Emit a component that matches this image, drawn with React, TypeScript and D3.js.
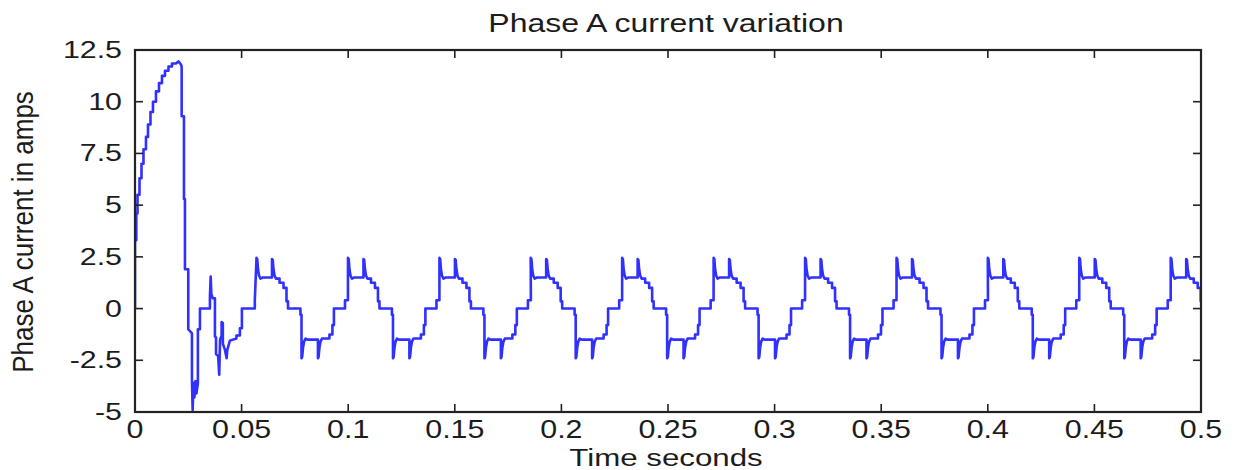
import React from 'react';
import * as d3 from 'd3';

const chartTitle = 'Phase A current variation';
const xAxisLabel = 'Time seconds';
const yAxisLabel = 'Phase A current in amps';

const xTicks = [0, 0.05, 0.1, 0.15, 0.2, 0.25, 0.3, 0.35, 0.4, 0.45, 0.5];
const xTickLabels = ['0', '0.05', '0.1', '0.15', '0.2', '0.25', '0.3', '0.35', '0.4', '0.45', '0.5'];
const yTicks = [-5, -2.5, 0, 2.5, 5, 7.5, 10, 12.5];
const yTickLabels = ['-5', '-2.5', '0', '2.5', '5', '7.5', '10', '12.5'];

// start-up transient, time in ms, current in A
const transientMs = [0, 0, 0.61, 0.61, 1.17, 1.17, 2.11, 2.11, 3.05, 3.05, 3.98, 3.98, 5.15, 5.15, 6.09, 6.09, 7.26, 7.26, 8.43, 8.43, 9.84, 9.84, 11.25, 11.25, 12.65, 12.65, 14.06, 14.06, 15.7, 15.7, 17.34, 17.34, 19.21, 20.38, 21.56, 21.88, 21.88, 22.96, 22.96, 23.43, 23.43, 24.98, 24.98, 26.71, 26.71, 27.04, 27.4, 27.88, 28.35, 28.82, 29.5, 29.5, 30.46, 30.46, 35.15, 35.15, 35.5, 35.8, 36.5, 37.49, 37.49, 38.0, 38.0, 39.0, 39.5, 39.9, 40.63, 40.63, 41.2, 41.2, 42.2, 42.97, 43.3, 44.5, 47.56, 47.56, 49.2, 49.2, 50.14, 50.14, 56.2, 56.2];
const transientAmps = [0, 3.3, 3.3, 4.6, 4.6, 5.5, 5.5, 6.3, 6.3, 7.0, 7.0, 7.7, 7.7, 8.3, 8.3, 8.9, 8.9, 9.5, 9.5, 10.0, 10.0, 10.5, 10.5, 10.9, 10.9, 11.25, 11.25, 11.5, 11.5, 11.7, 11.7, 11.85, 11.85, 11.95, 11.8, 11.7, 9.3, 9.3, 5.3, 5.3, 1.9, 1.9, -1.0, -1.2, -3.4, -4.9, -3.6, -4.3, -3.5, -4.1, -3.6, -1.0, -1.0, 0, 0, 0.6, 1.55, 0.7, 0.5, 0.5, -1.35, -1.4, -2.2, -2.3, -3.2, -1.5, -1.3, -0.65, -0.7, -1.7, -2.0, -2.4, -2.0, -1.55, -1.45, -1.3, -1.3, -0.95, -0.95, 0, 0, 0.4];

// one steady-state cycle (ms from the rising edge), current in A
const cycleMs = [0, 0.33, 0.7, 1.17, 1.87, 2.8, 7.26, 7.26, 7.6, 7.97, 8.43, 9.14, 10.8, 10.8, 12.65, 12.65, 14.06, 14.06, 14.76, 14.76, 20.6, 20.6, 21.1, 21.1, 21.4, 21.8, 22.3, 23.0, 24.0, 28.8, 28.8, 29.1, 29.5, 30.0, 30.7, 34.2, 34.2, 35.6, 35.6, 36.3, 36.3, 41.5, 41.5, 42.88];
const cycleAmps = [2.45, 2.4, 1.9, 1.6, 1.45, 1.5, 1.5, 2.4, 2.35, 1.9, 1.6, 1.45, 1.45, 1.25, 1.25, 1.0, 1.0, 0.35, 0.35, 0, 0, -0.3, -0.3, -2.4, -2.35, -1.9, -1.6, -1.45, -1.5, -1.5, -2.4, -2.35, -1.9, -1.6, -1.45, -1.45, -1.25, -1.25, -0.8, -0.8, 0, 0, 0.4, 0.4];

// rising edge time of each steady-state cycle, ms
const cycleStartsMs = [57.0, 99.9, 142.8, 185.6, 228.5, 271.4, 314.3, 357.2, 400.0, 442.9, 485.8];

const W = 1236;
const H = 470;
const L = 135;
const R = 1201;
const T = 50;
const B = 412;
const FONT = '"Liberation Sans", Arial, Helvetica, sans-serif';
const TXT = '#1c1c1c';

export default function App() {
  const x = d3.scaleLinear().domain([0, 0.5]).range([L, R]);
  const y = d3.scaleLinear().domain([-5, 12.5]).range([B, T]);

  const pts: [number, number][] = [];
  transientMs.forEach((t, i) => pts.push([t / 1000, transientAmps[i]]));
  cycleStartsMs.forEach((s) => {
    cycleMs.forEach((t, i) => pts.push([(s + t) / 1000, cycleAmps[i]]));
  });

  const line = d3
    .line<[number, number]>()
    .x((d) => x(d[0]))
    .y((d) => y(d[1]));

  const tickLen = 8;

  return (
    <svg
      width={W}
      height={H}
      style={{ position: 'absolute', left: 0, top: 0, display: 'block', background: '#fff' }}
    >
      <defs>
        <clipPath id="plot">
          <rect x={L} y={T} width={R - L} height={B - T} />
        </clipPath>
      </defs>
      <rect x={0} y={0} width={W} height={H} fill="#fff" />

      <path
        d={line(pts) || ''}
        fill="none"
        stroke="#3030ff"
        strokeWidth={2.6}
        strokeLinejoin="round"
        clipPath="url(#plot)"
      />

      {xTicks.map((t) => (
        <g key={'xt' + t}>
          <line x1={x(t)} x2={x(t)} y1={B} y2={B - tickLen} stroke="#222" strokeWidth={1.6} />
          <line x1={x(t)} x2={x(t)} y1={T} y2={T + tickLen} stroke="#222" strokeWidth={1.6} />
        </g>
      ))}
      {yTicks.map((t) => (
        <g key={'yt' + t}>
          <line x1={L} x2={L + tickLen} y1={y(t)} y2={y(t)} stroke="#222" strokeWidth={1.6} />
          <line x1={R} x2={R - tickLen} y1={y(t)} y2={y(t)} stroke="#222" strokeWidth={1.6} />
        </g>
      ))}
      <rect x={L} y={T} width={R - L} height={B - T} fill="none" stroke="#222" strokeWidth={2.2} />

      {xTicks.map((t, i) => (
        <text
          key={'xl' + t}
          transform={`translate(${x(t)},${438}) scale(1.17,1)`}
          textAnchor="middle"
          fontFamily={FONT}
          fontSize={26}
          fill={TXT}
        >
          {xTickLabels[i]}
        </text>
      ))}

      {yTicks.map((t, i) => (
        <text
          key={'yl' + t}
          transform={`translate(${122},${y(t) + 8}) scale(1.32,1)`}
          textAnchor="end"
          fontFamily={FONT}
          fontSize={23}
          fill={TXT}
        >
          {yTickLabels[i]}
        </text>
      ))}

      <text
        transform={`translate(666,32) scale(1.23,1)`}
        textAnchor="middle"
        fontFamily={FONT}
        fontSize={26}
        fill={TXT}
      >
        {chartTitle}
      </text>

      <text
        transform={`translate(666,466) scale(1.36,1)`}
        textAnchor="middle"
        fontFamily={FONT}
        fontSize={23}
        fill={TXT}
      >
        {xAxisLabel}
      </text>

      <text
        transform={`translate(33,232) rotate(-90) scale(1,1.12)`}
        textAnchor="middle"
        fontFamily={FONT}
        fontSize={26}
        fill={TXT}
      >
        {yAxisLabel}
      </text>
    </svg>
  );
}
